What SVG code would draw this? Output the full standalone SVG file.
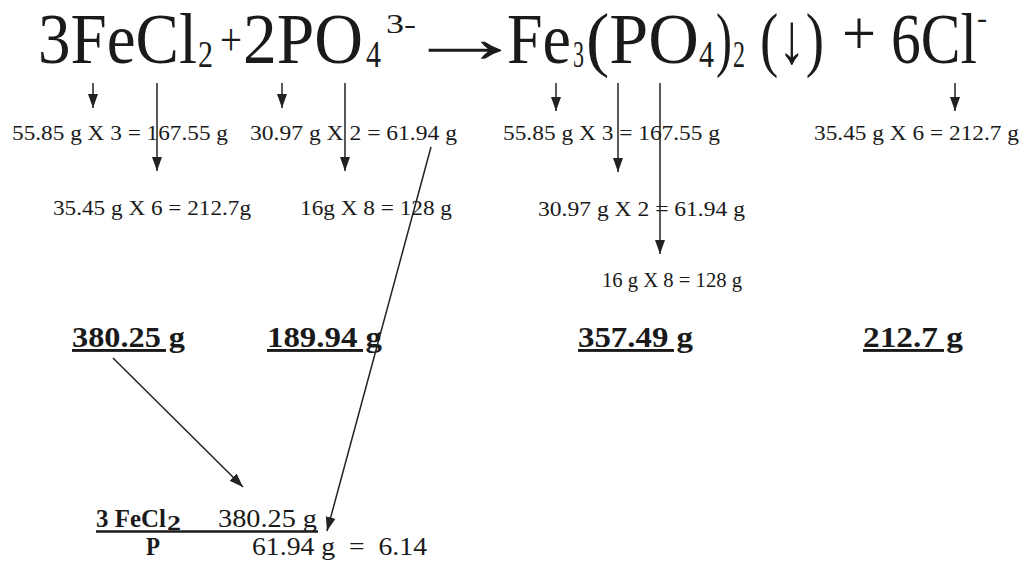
<svg xmlns="http://www.w3.org/2000/svg" width="1029" height="564" viewBox="0 0 1029 564">
<style>
text{font-family:"Liberation Serif","Times New Roman",serif;fill:#1a1a1a}
.big{font-size:72px}
.sub{font-size:38px}
.sm{font-size:21px}
.bd{font-size:29px;font-weight:bold;text-decoration:underline;text-decoration-skip-ink:none}
.bt{font-size:25px}
.b{font-weight:bold}
.ln{stroke:#222;stroke-width:1.5;fill:none}
</style>
<defs>
<marker id="ah" markerUnits="userSpaceOnUse" markerWidth="14" markerHeight="16" refX="14" refY="5" orient="auto" viewBox="0 0 14 10">
<path d="M0,0 L14,5 L0,10 Z" fill="#222"/>
</marker>
</defs>
<rect width="1029" height="564" fill="#fff"/>
<g id="equation">
<text class="big" y="63"><tspan x="38" y="63" textLength="159" lengthAdjust="spacingAndGlyphs">3FeCl</tspan><tspan class="sub" x="198" y="67" textLength="15" lengthAdjust="spacingAndGlyphs">2</tspan><tspan x="220" y="55" font-size="46" textLength="22" lengthAdjust="spacingAndGlyphs">+</tspan><tspan x="243" y="63" textLength="120" lengthAdjust="spacingAndGlyphs">2PO</tspan><tspan class="sub" x="366" y="67" textLength="15" lengthAdjust="spacingAndGlyphs">4</tspan><tspan x="386" y="33" font-size="28" textLength="30" lengthAdjust="spacingAndGlyphs">3-</tspan></text>
<text class="big" transform="translate(404,0) scale(1.7,1)" x="0" y="62">→</text>
<text class="big" y="63"><tspan x="507" y="63" textLength="64" lengthAdjust="spacingAndGlyphs">Fe</tspan><tspan class="sub" x="573" y="67" textLength="11" lengthAdjust="spacingAndGlyphs">3</tspan><tspan x="586" y="63" textLength="113" lengthAdjust="spacingAndGlyphs">(PO</tspan><tspan class="sub" x="699" y="67" textLength="15" lengthAdjust="spacingAndGlyphs">4</tspan><tspan x="716" y="63" textLength="16" lengthAdjust="spacingAndGlyphs">)</tspan><tspan class="sub" x="733" y="67" textLength="12" lengthAdjust="spacingAndGlyphs">2</tspan><tspan x="760" y="63" textLength="64" lengthAdjust="spacingAndGlyphs">(↓)</tspan><tspan x="842" y="55" font-size="64" textLength="34" lengthAdjust="spacingAndGlyphs">+</tspan><tspan x="891" y="63" textLength="86" lengthAdjust="spacingAndGlyphs">6Cl</tspan><tspan x="977" y="28" font-size="30" textLength="10" lengthAdjust="spacingAndGlyphs">-</tspan></text>
</g>
<g id="row1">
<text class="sm" x="12" y="140" textLength="216" lengthAdjust="spacingAndGlyphs">55.85 g X 3 = 167.55 g</text>
<text class="sm" x="250" y="140" textLength="207" lengthAdjust="spacingAndGlyphs">30.97 g X 2 = 61.94 g</text>
<text class="sm" x="503" y="140" textLength="217" lengthAdjust="spacingAndGlyphs">55.85 g X 3 = 167.55 g</text>
<text class="sm" x="814" y="140" textLength="205" lengthAdjust="spacingAndGlyphs">35.45 g X 6 = 212.7 g</text>
</g>
<g id="row2">
<text class="sm" x="53" y="215" textLength="198" lengthAdjust="spacingAndGlyphs">35.45 g X 6 = 212.7g</text>
<text class="sm" x="300" y="215" textLength="152" lengthAdjust="spacingAndGlyphs">16g X 8 = 128 g</text>
<text class="sm" x="538" y="216" textLength="207" lengthAdjust="spacingAndGlyphs">30.97 g X 2 = 61.94 g</text>
</g>
<g id="row3">
<text class="sm" x="602" y="287" textLength="140" lengthAdjust="spacingAndGlyphs">16 g X 8 = 128 g</text>
</g>
<g id="totals">
<text class="bd" x="72" y="347" textLength="113" lengthAdjust="spacingAndGlyphs">380.25 g</text>
<text class="bd" x="267" y="347" textLength="115" lengthAdjust="spacingAndGlyphs">189.94 g</text>
<text class="bd" x="578" y="347" textLength="115" lengthAdjust="spacingAndGlyphs">357.49 g</text>
<text class="bd" x="863" y="347" textLength="100" lengthAdjust="spacingAndGlyphs">212.7 g</text>
</g>
<g id="ratio">
<text class="bt b" y="527"><tspan x="96" y="527" textLength="70" lengthAdjust="spacingAndGlyphs">3 FeCl</tspan><tspan x="167" y="530" font-size="21" textLength="14" lengthAdjust="spacingAndGlyphs">2</tspan></text>
<text class="bt" x="218" y="527" textLength="99" lengthAdjust="spacingAndGlyphs">380.25 g</text>
<line x1="96" y1="531.5" x2="318" y2="531.5" stroke="#1a1a1a" stroke-width="2.5"/>
<text class="bt b" x="146" y="555" textLength="14" lengthAdjust="spacingAndGlyphs">P</text>
<text class="bt" x="252" y="555" textLength="175" lengthAdjust="spacingAndGlyphs">61.94 g&#160; =&#160; 6.14</text>
</g>
<g id="connectors">
<line class="ln" x1="93" y1="83" x2="93" y2="108" marker-end="url(#ah)"/>
<line class="ln" x1="157" y1="83" x2="157" y2="171" marker-end="url(#ah)"/>
<line class="ln" x1="282" y1="83" x2="282" y2="108" marker-end="url(#ah)"/>
<line class="ln" x1="345" y1="83" x2="345" y2="171" marker-end="url(#ah)"/>
<line class="ln" x1="556" y1="83" x2="556" y2="111" marker-end="url(#ah)"/>
<line class="ln" x1="618" y1="83" x2="618" y2="172" marker-end="url(#ah)"/>
<line class="ln" x1="660" y1="83" x2="660" y2="254" marker-end="url(#ah)"/>
<line class="ln" x1="955" y1="83" x2="955" y2="111" marker-end="url(#ah)"/>
<line class="ln" x1="113" y1="358" x2="243" y2="487" marker-end="url(#ah)"/>
<line class="ln" x1="431" y1="147" x2="327" y2="531" marker-end="url(#ah)"/>
</g>
</svg>
